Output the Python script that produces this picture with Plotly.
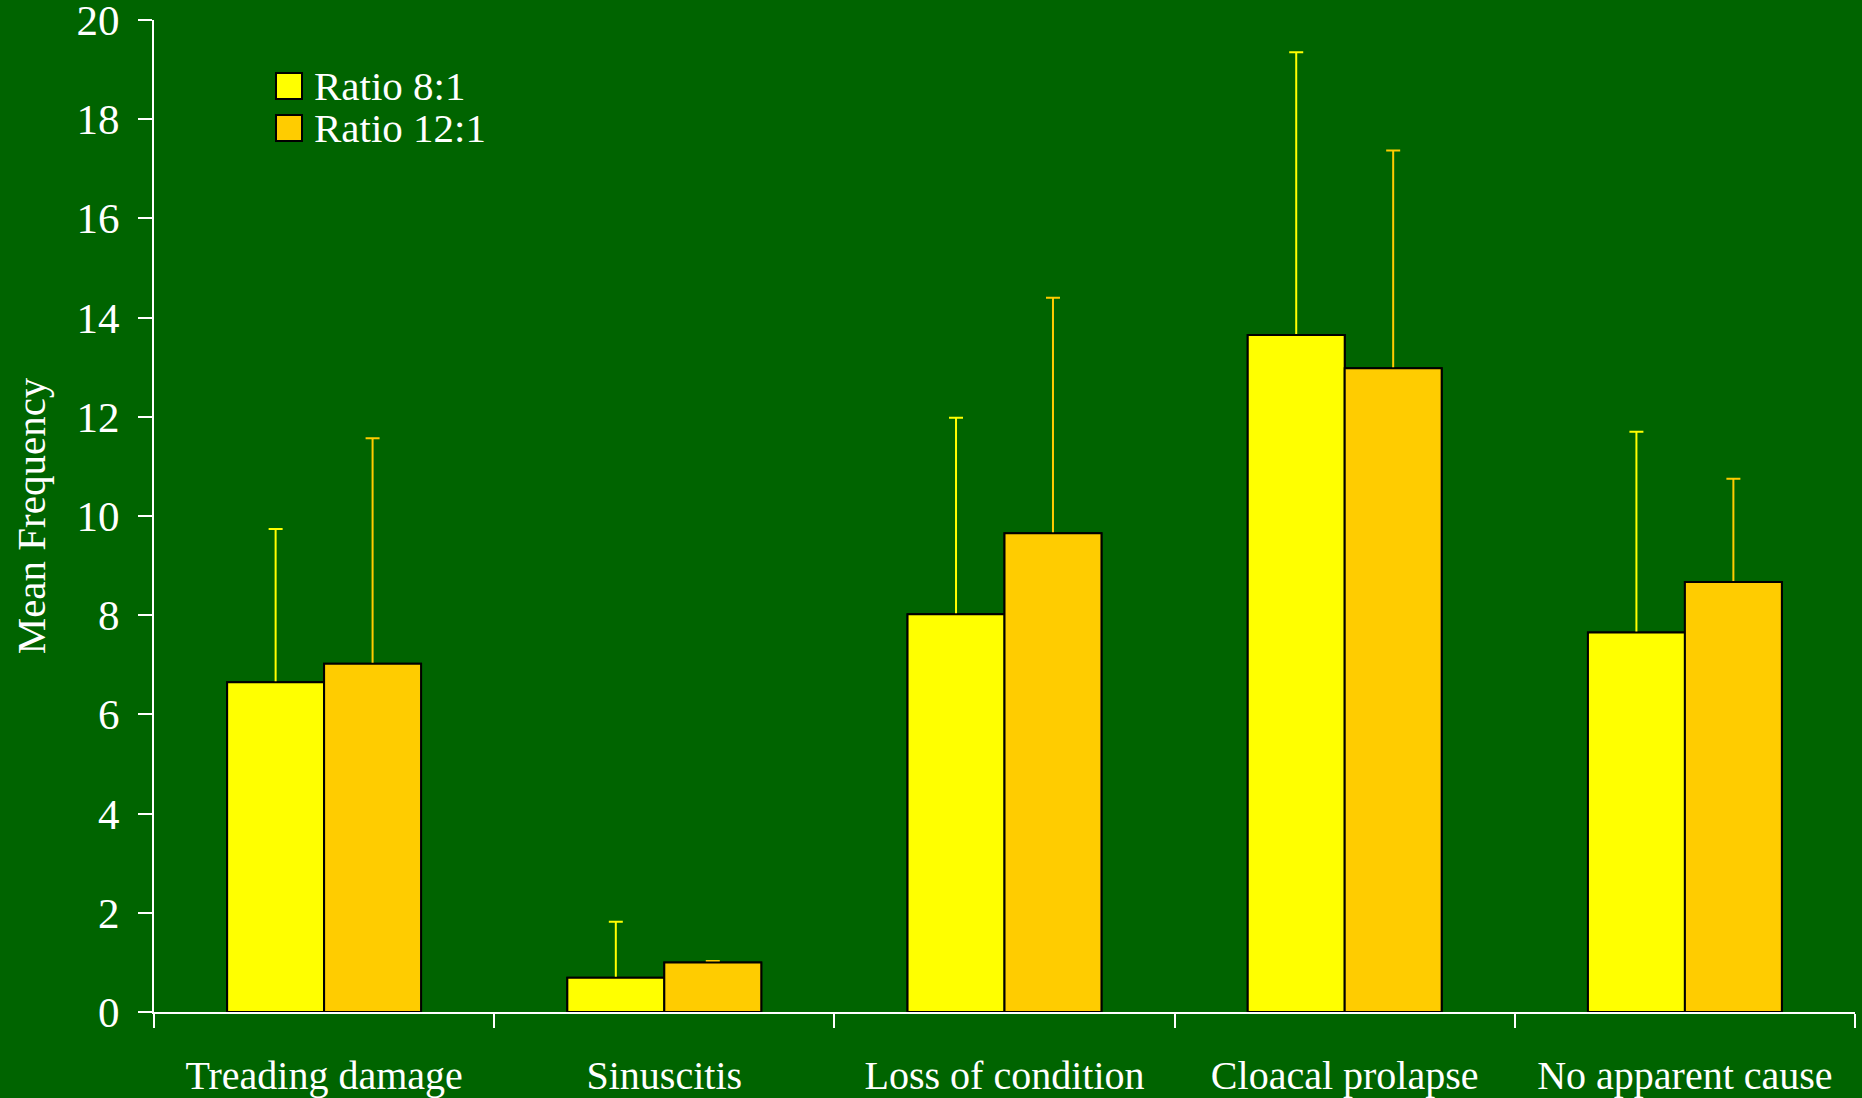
import plotly.graph_objects as go

categories = ["Treading damage", "Sinuscitis", "Loss of condition", "Cloacal prolapse", "No apparent cause"]
series_names = ["Ratio 8:1", "Ratio 12:1"]
ratio_8_mean = [6.65, 0.69, 8.02, 13.65, 7.65]
ratio_8_err = [3.09, 1.13, 3.96, 5.70, 4.05]
ratio_12_mean = [7.02, 1.00, 9.65, 12.98, 8.67]
ratio_12_err = [4.55, 0.03, 4.75, 4.39, 2.08]
y_ticks = [0, 2, 4, 6, 8, 10, 12, 14, 16, 18, 20]

colors = ["#FFFF00", "#FFCC00"]
bg = "#006400"
font_family = "Liberation Serif, Times New Roman, serif"

means = [ratio_8_mean, ratio_12_mean]
errs = [ratio_8_err, ratio_12_err]

fig = go.Figure()
# error-bar layer (drawn first, so the bars hide the lower half)
for i in range(2):
    fig.add_trace(go.Bar(
        x=categories, y=means[i], name=series_names[i], offsetgroup=str(i),
        marker=dict(color=colors[i], line=dict(color="black", width=2)),
        error_y=dict(type="data", array=errs[i], symmetric=True,
                     color=colors[i], thickness=2, width=7),
        showlegend=False, hoverinfo="skip"))
# bar layer on top
for i in range(2):
    fig.add_trace(go.Bar(
        x=categories, y=means[i], name=series_names[i], offsetgroup=str(i),
        marker=dict(color=colors[i], line=dict(color="black", width=2)),
        showlegend=False))

# manual legend (large swatches like the reference)
L, R, T, B = 154, 1855, 20, 1012
def px(x):
    return (x - L) / (R - L)
def py(y):
    return (B - y) / (B - T)

rows = [86, 128]
for i in range(2):
    fig.add_shape(type="rect", xref="paper", yref="paper",
                  x0=px(276), x1=px(302), y0=py(rows[i] + 13), y1=py(rows[i] - 13),
                  fillcolor=colors[i], line=dict(color="black", width=2))
    fig.add_annotation(xref="paper", yref="paper", x=px(312), y=py(rows[i]),
                       text=series_names[i], showarrow=False, xanchor="left", yanchor="middle",
                       font=dict(family=font_family, size=41, color="white"))

fig.update_layout(
    width=1862, height=1098,
    paper_bgcolor=bg, plot_bgcolor=bg,
    barmode="group", bargap=0.43, bargroupgap=0,
    margin=dict(l=L, r=1862 - R, t=T, b=1098 - B, autoexpand=False),
    font=dict(family=font_family, size=40, color="white"),
    showlegend=False,
)
fig.update_xaxes(
    type="category", range=[-0.5, 4.5], tickson="boundaries", automargin=False,
    ticks="outside", ticklen=14, tickwidth=2, tickcolor="white",
    showline=True, linecolor="white", linewidth=2, showgrid=False,
    tickfont=dict(family=font_family, size=40, color="white"),
    ticklabelstandoff=27, ticklabeloverflow="allow",
)
fig.update_yaxes(
    range=[0, 20], tickvals=y_ticks, automargin=False,
    ticks="outside", ticklen=14, tickwidth=2,
    tickcolor="white", showline=True, linecolor="white", linewidth=2,
    showgrid=False, zeroline=False,
    tickfont=dict(family=font_family, size=43, color="white"),
    ticklabelstandoff=10, ticklabeloverflow="allow",
    title=dict(text="Mean Frequency", font=dict(family=font_family, size=41, color="white"), standoff=18),
)

fig.write_html("out.html", config={"displayModeBar": False},
               post_script="document.body.style.margin='0';document.body.style.background='" + bg + "';")
